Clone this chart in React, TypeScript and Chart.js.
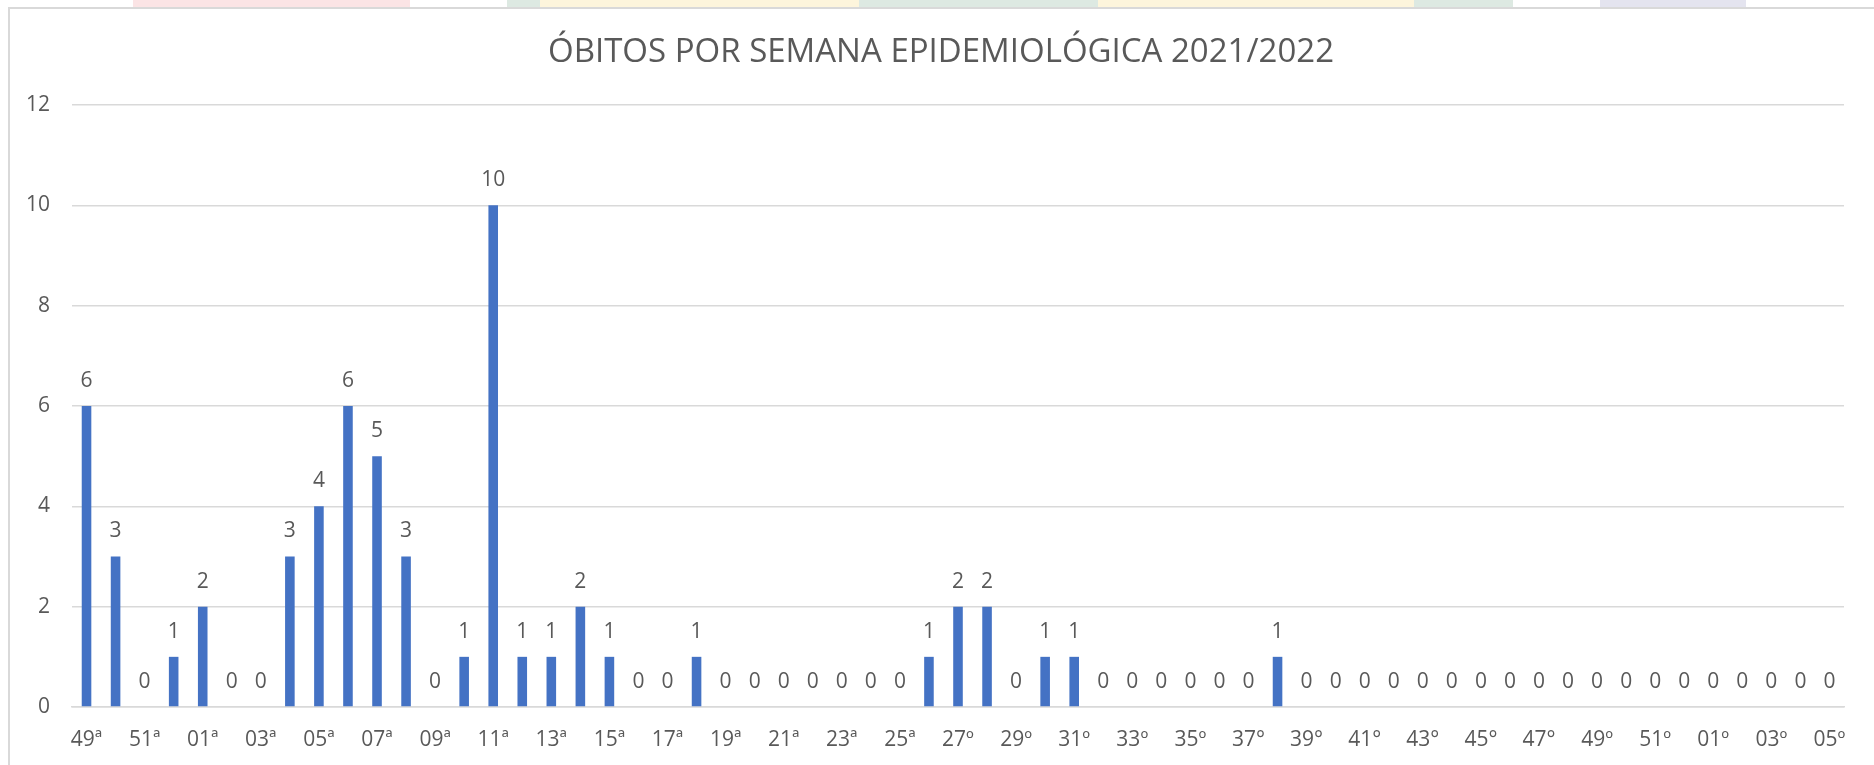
import React, { useEffect, useRef } from "react";
import { Chart, registerables } from "chart.js";

Chart.register(...registerables);

const weeks: string[] = [
  "49ª", "50ª", "51ª", "52ª",
  "01ª", "02ª", "03ª", "04ª", "05ª", "06ª", "07ª", "08ª", "09ª", "10ª",
  "11ª", "12ª", "13ª", "14ª", "15ª", "16ª", "17ª", "18ª", "19ª", "20ª",
  "21ª", "22ª", "23ª", "24ª", "25ª", "26ª", "27º", "28º", "29º", "30º",
  "31º", "32º", "33º", "34º", "35º", "36º", "37°", "38°", "39°", "40°",
  "41°", "42°", "43°", "44°", "45°", "46°", "47°", "48°", "49º", "50º",
  "51º", "52º", "01º", "02º", "03º", "04º", "05º",
];

const deaths: number[] = [
  6, 3, 0, 1,
  2, 0, 0, 3, 4, 6, 5, 3, 0, 1,
  10, 1, 1, 2, 1, 0, 0, 1, 0, 0,
  0, 0, 0, 0, 0, 1, 2, 2, 0, 1,
  1, 0, 0, 0, 0, 0, 0, 1, 0, 0,
  0, 0, 0, 0, 0, 0, 0, 0, 0, 0,
  0, 0, 0, 0, 0, 0, 0,
];

const yMin = 0;
const yMax = 12;
const yStep = 2;

const titleText = "ÓBITOS POR SEMANA EPIDEMIOLÓGICA 2021/2022";

const FONT = '"Open Sans", "Noto Sans", sans-serif';
const TEXT = "#595959";
const GRID = "#d9d9d9";
const BAR = "#4472C4";

const barValuePlugin = {
  id: "barValues",
  afterDatasetsDraw(chart: any) {
    const ctx = chart.ctx;
    const meta = chart.getDatasetMeta(0);
    const data = chart.data.datasets[0].data as number[];
    ctx.save();
    ctx.font = `21px ${FONT}`;
    ctx.fillStyle = TEXT;
    ctx.textAlign = "center";
    ctx.textBaseline = "middle";
    meta.data.forEach((el: any, i: number) => {
      ctx.fillText(String(data[i]), el.x, el.y - 25);
    });
    ctx.restore();
  },
};

const titlePlugin = {
  id: "centeredTitle",
  afterDraw(chart: any) {
    const ctx = chart.ctx;
    ctx.save();
    ctx.font = `33px ${FONT}`;
    ctx.fillStyle = TEXT;
    ctx.textAlign = "center";
    ctx.textBaseline = "middle";
    ctx.fillText(titleText, 941, 53);
    ctx.restore();
  },
};

const stripes = [
  { left: 133, width: 277, color: "#fbe4e5" },
  { left: 507, width: 33, color: "#dde9e2" },
  { left: 540, width: 319, color: "#fdf5dc" },
  { left: 859, width: 239, color: "#dde9e2" },
  { left: 1098, width: 316, color: "#fdf5dc" },
  { left: 1414, width: 99, color: "#dde9e2" },
  { left: 1600, width: 146, color: "#e4e4ef" },
];

export default function App() {
  const canvasRef = useRef<HTMLCanvasElement | null>(null);

  useEffect(() => {
    if (!canvasRef.current) return;
    const chart = new Chart(canvasRef.current, {
      type: "bar",
      data: {
        labels: weeks,
        datasets: [
          {
            data: deaths,
            backgroundColor: BAR,
            borderWidth: 0,
            barPercentage: 0.33,
            categoryPercentage: 1,
          },
        ],
      },
      options: {
        animation: false,
        responsive: true,
        maintainAspectRatio: false,
        layout: { padding: { top: 105, right: 30, bottom: 0, left: 0 } },
        plugins: {
          legend: { display: false },
          tooltip: { enabled: false },
          title: { display: false },
        },
        scales: {
          x: {
            grid: { display: false, drawTicks: false },
            border: { display: true, color: GRID, width: 1.5 },
            ticks: {
              autoSkip: false,
              maxRotation: 0,
              minRotation: 0,
              padding: 20,
              color: TEXT,
              font: { family: FONT, size: 21 },
              callback: (_v: any, i: number) => (i % 2 === 0 ? weeks[i] : ""),
            },
            afterFit: (scale: any) => {
              scale.height = 58;
            },
          },
          y: {
            min: yMin,
            max: yMax,
            grid: { color: GRID, lineWidth: 1.5, drawTicks: false },
            border: { display: false },
            ticks: {
              stepSize: yStep,
              padding: 22,
              color: TEXT,
              font: { family: FONT, size: 21 },
            },
            afterFit: (scale: any) => {
              scale.width = 72;
            },
          },
        },
      },
      plugins: [barValuePlugin, titlePlugin],
    });
    return () => chart.destroy();
  }, []);

  return (
    <div
      style={{
        position: "absolute",
        left: 0,
        top: 0,
        width: 1874,
        height: 765,
        background: "#ffffff",
        overflow: "hidden",
      }}
    >
      {stripes.map((s, i) => (
        <div
          key={i}
          style={{
            position: "absolute",
            top: 0,
            left: s.left,
            width: s.width,
            height: 7,
            background: s.color,
          }}
        />
      ))}
      <div
        style={{
          position: "absolute",
          left: 8,
          top: 7,
          width: 1900,
          height: 800,
          borderLeft: `2px solid ${GRID}`,
          borderTop: `2px solid ${GRID}`,
          boxSizing: "border-box",
        }}
      />
      <div style={{ position: "absolute", left: 0, top: 0, width: 1874, height: 765 }}>
        <canvas ref={canvasRef} />
      </div>
    </div>
  );
}
